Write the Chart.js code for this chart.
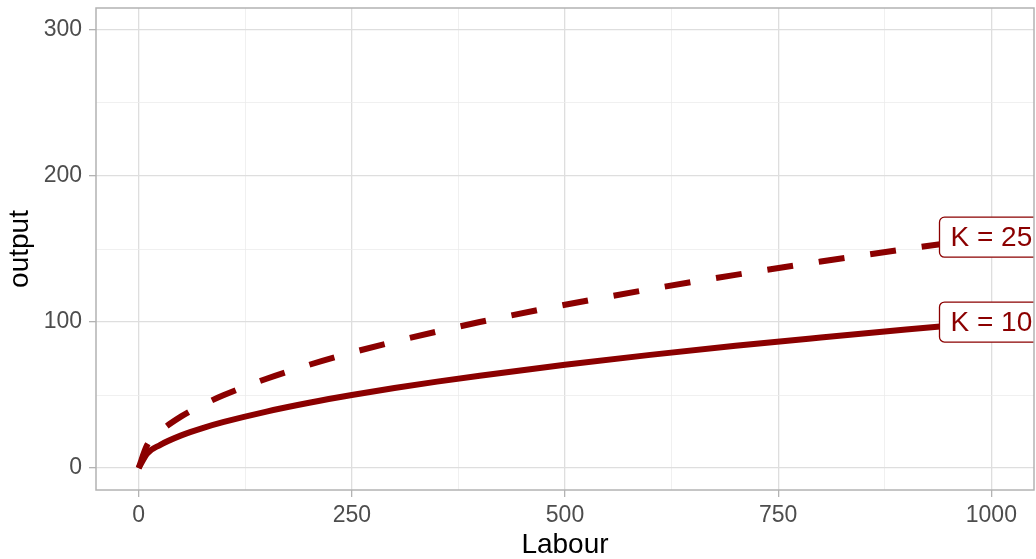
<!DOCTYPE html>
<html><head><meta charset="utf-8">
<script src="https://cdn.jsdelivr.net/npm/chart.js@4"></script>
<style>html,body{margin:0;padding:0;background:#fff}canvas{display:block}</style>
</head><body>
<canvas id="c" width="1036" height="559"></canvas>
<script>
// ---- data ----
const labour    = [0, 10, 25, 50, 75, 100, 150, 200, 250, 300, 350, 400, 500, 600, 700, 800, 900, 1000];
const outputK10 = [0, 10, 15.8, 22.4, 27.4, 31.6, 38.7, 44.7, 50, 54.8, 59.2, 63.2, 70.7, 77.5, 83.7, 89.4, 94.9, 100];
const outputK25 = [0, 15.8, 25, 35.4, 43.3, 50, 61.2, 70.7, 79.1, 86.6, 93.5, 100, 111.8, 122.5, 132.3, 141.4, 150, 158.1];
const seriesNames = ['K = 10', 'K = 25'];
const xMajorTicks = [0, 250, 500, 750, 1000];
const xMinorTicks = [125, 375, 625, 875];
const yMajorTicks = [0, 100, 200, 300];
const yMinorTicks = [50, 150, 250];

const DARKRED = '#8B0000';
const FONT = '"Liberation Sans", Arial, Helvetica, sans-serif';

const toPts = ys => labour.map((l, i) => ({x: l, y: ys[i]}));

const endLabels = {
  id: 'endLabels',
  afterDatasetsDraw(chart) {
    const {ctx, chartArea: a, scales: {x, y}} = chart;
    ctx.save();
    ctx.beginPath();
    ctx.rect(a.left, a.top, a.right - a.left, a.bottom - a.top);
    ctx.clip();
    ctx.font = '28px ' + FONT;
    chart.data.datasets.forEach(ds => {
      const last = ds.data[ds.data.length - 1];
      const px = x.getPixelForValue(last.x), py = y.getPixelForValue(last.y);
      const w = ctx.measureText(ds.label).width + 22, h = 40;
      const l = px - w / 2, t = py - h / 2, r = 5;
      ctx.beginPath();
      ctx.moveTo(l + r, t);
      ctx.arcTo(l + w, t, l + w, t + h, r);
      ctx.arcTo(l + w, t + h, l, t + h, r);
      ctx.arcTo(l, t + h, l, t, r);
      ctx.arcTo(l, t, l + w, t, r);
      ctx.closePath();
      ctx.fillStyle = '#fff';
      ctx.fill();
      ctx.strokeStyle = DARKRED;
      ctx.lineWidth = 1.3;
      ctx.stroke();
      ctx.fillStyle = DARKRED;
      ctx.textAlign = 'center';
      ctx.textBaseline = 'middle';
      ctx.fillText(ds.label, px, py + 1);
    });
    ctx.restore();
    ctx.save();
    ctx.strokeStyle = '#b3b3b3';
    ctx.lineWidth = 1.5;
    ctx.strokeRect(a.left, a.top, a.right - a.left, a.bottom - a.top);
    ctx.restore();
  }
};

const gridOpts = (majors) => ({
  color: c => majors.includes(c.tick && c.tick.value) ? '#dedede' : '#ececec',
  lineWidth: c => majors.includes(c.tick && c.tick.value) ? 1.3 : 0.8,
  tickColor: c => majors.includes(c.tick && c.tick.value) ? '#b3b3b3' : 'rgba(0,0,0,0)',
  tickWidth: 1.3,
  tickLength: 7,
  drawTicks: true
});

new Chart(document.getElementById('c'), {
  type: 'line',
  data: {
    datasets: [
      {label: seriesNames[0], data: toPts(outputK10), borderColor: DARKRED, borderWidth: 6,
       pointRadius: 0, cubicInterpolationMode: 'monotone', fill: false, borderCapStyle: 'butt'},
      {label: seriesNames[1], data: toPts(outputK25), borderColor: DARKRED, borderWidth: 6,
       borderDash: [26, 26], pointRadius: 0, cubicInterpolationMode: 'monotone', fill: false, borderCapStyle: 'butt'}
    ]
  },
  options: {
    responsive: false,
    animation: false,
    layout: {padding: {left: 0, right: 2, top: 8, bottom: 0}},
    plugins: {legend: {display: false}, tooltip: {enabled: false}},
    scales: {
      x: {
        type: 'linear', min: -50, max: 1050,
        afterBuildTicks: s => { s.ticks = [...xMajorTicks, ...xMinorTicks].sort((a, b) => a - b).map(v => ({value: v})); },
        afterFit: s => { s.height = 69; s.paddingLeft = 0; s.paddingRight = 0; },
        ticks: {
          callback: v => xMajorTicks.includes(v) ? String(v) : '',
          color: '#4d4d4d', font: {size: 23, family: FONT}, padding: 5,
          maxRotation: 0, autoSkip: false
        },
        grid: gridOpts(xMajorTicks),
        border: {display: false},
        title: {display: true, text: 'Labour', color: '#000', font: {size: 28, family: FONT, lineHeight: 1}, padding: {top: 0, bottom: 0}}
      },
      y: {
        type: 'linear', min: -15, max: 315,
        afterBuildTicks: s => { s.ticks = [...yMajorTicks, ...yMinorTicks].sort((a, b) => a - b).map(v => ({value: v})); },
        afterFit: s => { s.width = 96; s.paddingTop = 0; s.paddingBottom = 0; },
        ticks: {
          callback: v => yMajorTicks.includes(v) ? String(v) : '',
          color: '#4d4d4d', font: {size: 23, family: FONT}, padding: 7, autoSkip: false
        },
        grid: gridOpts(yMajorTicks),
        border: {display: false},
        title: {display: true, text: 'output', color: '#000', font: {size: 28, family: FONT, lineHeight: 1}, padding: {top: 6, bottom: 0}}
      }
    }
  },
  plugins: [endLabels]
});
</script>
</body></html>
